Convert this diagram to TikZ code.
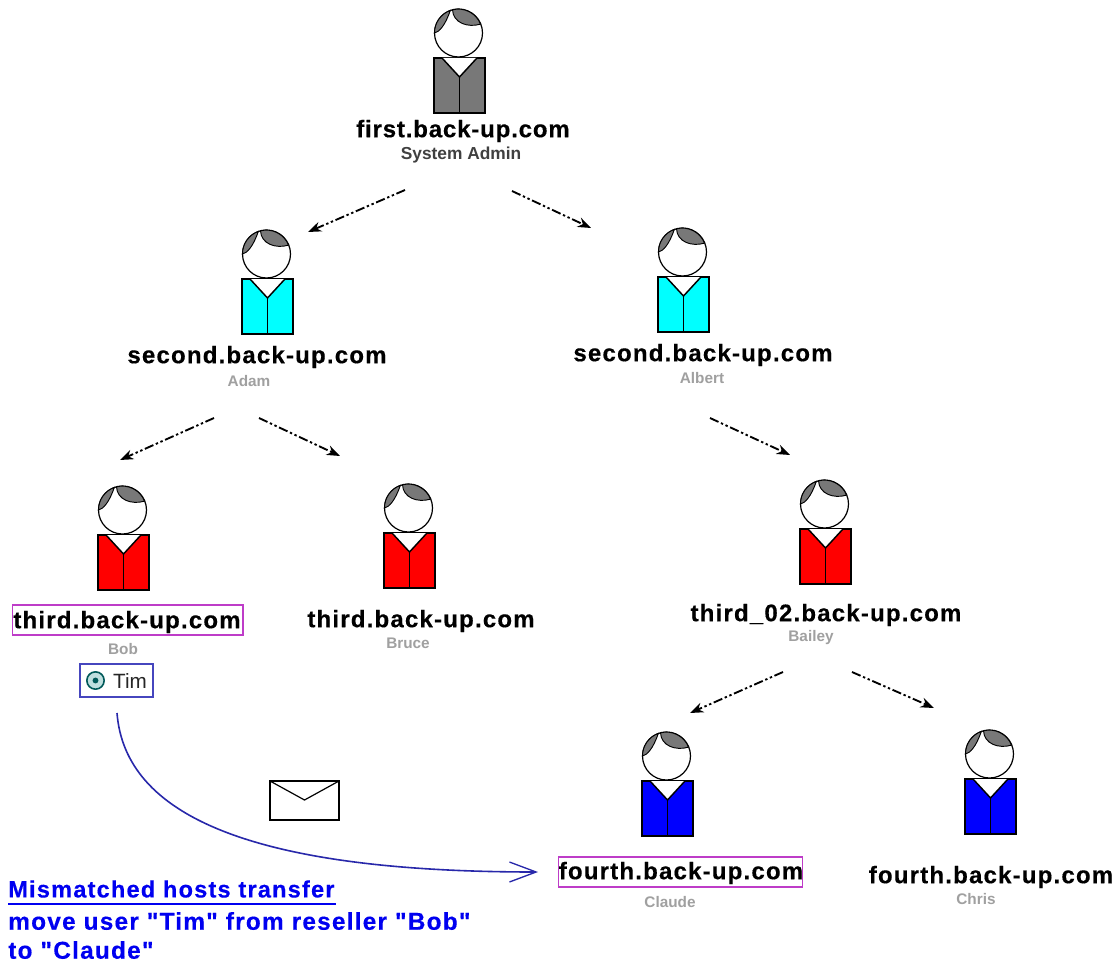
\documentclass[tikz,border=0pt]{standalone}
\usepackage{fontspec}
\setmainfont{Liberation Sans}
\usetikzlibrary{arrows.meta}
\definecolor{suitgray}{RGB}{120,120,120}
\definecolor{hair}{RGB}{120,120,120}
\definecolor{suitcyan}{RGB}{0,255,255}
\definecolor{suitred}{RGB}{255,0,0}
\definecolor{suitblue}{RGB}{0,0,255}
\definecolor{boxmag}{RGB}{190,60,200}
\definecolor{timblue}{RGB}{70,70,190}
\definecolor{curveblue}{RGB}{40,40,170}
\definecolor{textblue}{RGB}{0,0,240}
\definecolor{subgray}{RGB}{160,160,160}
\newfontfamily\hostfont[LetterSpace=5,FakeBold=0.4]{Liberation Sans}
\newfontfamily\hostfonttight[LetterSpace=3.5,FakeBold=0.4]{Liberation Sans}
\newfontfamily\notefont[Ligatures=TeXOff,LetterSpace=5,FakeBold=0.3]{Liberation Sans}
\tikzset{
  x=0.75pt,y=-0.75pt,
  pics/person/.style={code={
    \draw[line width=1.1pt,fill=#1] (0,0) rectangle (51,55);
    \fill[white] (8,0) -- (25.5,19) -- (43,0) -- cycle;
    \draw[line width=1.1pt] (8,0) -- (25.5,19) -- (43,0);
    \draw[line width=1.1pt] (25.5,19) -- (25.5,55);
    \draw[line width=0.9pt,fill=white] (24.5,-25) circle[radius=18pt];
    \draw[line width=0.7pt,fill=hair] (0.5,-25) arc[start angle=180,end angle=110,radius=18pt]
       .. controls (11,-32) and (5,-26) .. cycle;
    \draw[line width=0.7pt,fill=hair] (18.5,-48.2) arc[start angle=104,end angle=22,radius=18pt]
       .. controls (34,-30) and (19,-35) .. cycle;
  }},
  host/.style={font=\hostfont\bfseries\fontsize{18}{20}\selectfont,text=black,inner sep=0pt,anchor=center},
  sub/.style={font=\bfseries\fontsize{11.5}{13}\selectfont,text=subgray,inner sep=0pt},
  subdark/.style={font=\bfseries\fontsize{13}{15}\selectfont,text=black!75,inner sep=0pt},
  relay/.style={line width=1.4pt,dash pattern=on 7pt off 2pt on 1.8pt off 2pt on 1.8pt off 2pt,-{Stealth[length=10pt,width=7.5pt]}},
  note/.style={font=\notefont\bfseries\fontsize{18.3}{20}\selectfont,text=textblue,inner sep=0pt,anchor=west},
}
\begin{document}
\begin{tikzpicture}
\useasboundingbox[fill=white] (0,0) rectangle (1120,963);
% people
\pic at (434,58) {person=suitgray};
\pic at (242,279) {person=suitcyan};
\pic at (658,277) {person=suitcyan};
\pic at (98,535) {person=suitred};
\pic at (384,533) {person=suitred};
\pic at (800,529) {person=suitred};
\pic at (642,781) {person=suitblue};
\pic at (965,779) {person=suitblue};
% labels
\node[host,font=\hostfonttight\bfseries\fontsize{18}{20}\selectfont] (first) at (463,131) {first.back-up.com};
\node[subdark] (firstrole) at (461,155) {System Admin};
\node[host] (adam) at (257,357) {second.back-up.com};
\node[sub] (adamrole) at (249,381) {Adam};
\node[host] (albert) at (703,355) {second.back-up.com};
\node[sub] (albertrole) at (702,378) {Albert};
\node[host] (bob) at (127,622) {third.back-up.com};
\node[draw=boxmag,line width=1pt,minimum width=173pt,minimum height=22.5pt,inner sep=0pt] (bobbox) at (127.5,620) {};
\node[sub] (bobrole) at (123,649) {Bob};
\node[host] (bruce) at (421,621) {third.back-up.com};
\node[sub] (brucerole) at (408,643) {Bruce};
\node[host] (bailey) at (826,615) {third\_02.back-up.com};
\node[sub] (baileyrole) at (811,638) {Bailey};
\node[host] (claude) at (681,873) {fourth.back-up.com};
\node[draw=boxmag,line width=1pt,minimum width=183pt,minimum height=22.5pt,inner sep=0pt] (claudebox) at (680.5,872) {};
\node[sub] (clauderole) at (670,902) {Claude};
\node[host] (chris) at (991,877) {fourth.back-up.com};
\node[sub] (chrisrole) at (976,899) {Chris};
% Tim
\node[draw=timblue,line width=1.2pt,minimum width=54.5pt,minimum height=24.5pt,inner sep=0pt] (timbox) at (116.5,680.5) {};
\node[font=\fontsize{15.5}{18}\selectfont,inner sep=0pt,text=black!85] (tim) at (130,681) {Tim};
\draw[draw=teal!70!black,line width=1.2pt,fill=teal!25] (95.5,680.5) circle[radius=6.5pt];
\fill[teal!70!black] (95.5,680.5) circle[radius=2.2pt];
% envelope
\draw[line width=1.1pt,fill=white] (270,781) rectangle (339,820);
\draw[line width=0.9pt] (270,781) -- (304.5,800) -- (339,781);
% relays
\coordinate (a1) at (405,190); \coordinate (a2) at (308,232);
\coordinate (b1) at (512,191); \coordinate (b2) at (591,228);
\coordinate (c1) at (214,418); \coordinate (c2) at (120,460);
\coordinate (d1) at (259,418); \coordinate (d2) at (340,456);
\coordinate (e1) at (710,418); \coordinate (e2) at (790,455);
\coordinate (f1) at (783,672); \coordinate (f2) at (690,713);
\coordinate (g1) at (852,672); \coordinate (g2) at (934,708);
\foreach \s/\t in {a1/a2,b1/b2,c1/c2,d1/d2,e1/e2,f1/f2,g1/g2}
  \draw[relay] (\s) -- (\t);
% transfer
\coordinate (tstart) at (117,713);
\coordinate (tend) at (538,872);
\draw[curveblue,line width=1.2pt,-{Straight Barb[length=20pt,width=15pt,line width=1pt]}] (tstart) .. controls (125,815) and (250,872) .. (tend);
% note
\node[note,font=\notefont\bfseries\fontsize{17.7}{20}\selectfont] (n1) at (8,889) {Mismatched hosts transfer};
\coordinate (u1) at (8,904); \coordinate (u2) at (336,904);
\draw[textblue,line width=1.2pt] (u1) -- (u2);
\node[note] (n2) at (8,921) {move user "Tim" from reseller "Bob"};
\node[note] (n3) at (8,950) {to "Claude"};
\end{tikzpicture}
\end{document}
